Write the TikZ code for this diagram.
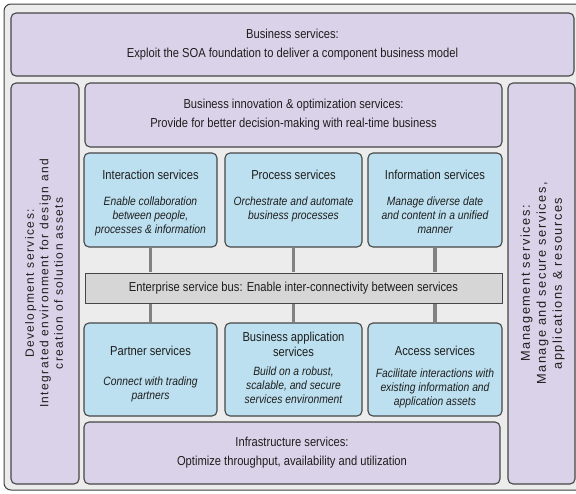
\documentclass[tikz,border=0pt]{standalone}
\usepackage{fontspec}
\setmainfont{Liberation Sans}
\newfontfamily\narf{Liberation Sans}[FakeStretch=0.86]
\newfontfamily\widef{Liberation Sans}[LetterSpace=12]
\definecolor{lavc}{RGB}{217,210,232}
\definecolor{bluc}{RGB}{188,224,239}
\definecolor{esbc}{RGB}{214,214,214}
\definecolor{bordc}{RGB}{70,70,70}
\definecolor{bgc}{RGB}{236,236,236}
\definecolor{txtc}{RGB}{30,30,30}
\definecolor{connc}{RGB}{130,130,130}
\begin{document}
\begin{tikzpicture}[x=1pt,y=-1pt,
  box/.style={draw=bordc, line width=1.1pt, rounded corners=5pt, inner sep=0pt},
  lav/.style={box, fill=lavc},
  blu/.style={box, fill=bluc},
  esbbox/.style={draw=bordc, line width=1pt, fill=esbc, inner sep=0pt},
  tfont/.style={font=\narf\fontsize{13}{19}\selectfont, text=txtc, align=center},
  ttl/.style={font=\narf\fontsize{13}{15}\selectfont, text=txtc, inner sep=0pt, anchor=base, align=center},
  desc/.style={font=\narf\itshape\fontsize{12}{14}\selectfont, text=txtc, inner sep=0pt, anchor=north, align=center},
  side/.style={font=\widef\fontsize{12}{14.5}\selectfont, text=txtc, align=center, rotate=90, inner sep=0pt},
  sider/.style={font=\widef\fontsize{12.8}{16}\selectfont, text=txtc, align=center, rotate=90, inner sep=0pt},
  conn/.style={draw=connc, line width=3.5pt, shorten <=0.6pt, shorten >=0.6pt}
]
\useasboundingbox (0,0) rectangle (576,493);
\clip (0,0) rectangle (576,493);
\draw[draw=black!75, line width=1pt, fill=bgc, rounded corners=7pt] (4,4) rectangle (600,490);

% large lavender boxes
\node[lav, tfont, minimum width=563pt, minimum height=63pt] (bus) at (292.5,44.5)
  {Business services:\\Exploit the SOA foundation to deliver a component business model};
\node[lav, minimum width=68pt, minimum height=401pt] (dev) at (45,283.5) {};
\node[lav, minimum width=67pt, minimum height=401pt] (mgmt) at (541.5,283.5) {};
\node[lav, tfont, minimum width=417pt, minimum height=64pt] (innov) at (293.5,115)
  {Business innovation \& optimization services:\\Provide for better decision-making with real-time business};
\node[lav, tfont, minimum width=416pt, minimum height=62pt] (infra) at (292,453)
  {Infrastructure services:\\Optimize throughput, availability and utilization};

% side texts
\node[side] (devt) at (44,283.5) {Development services:\\Integrated environment for design and\\creation of solution assets};
\node[sider] (mgmtt) at (542.5,283.5) {Management services:\\Manage and secure services,\\applications \& resources};

% top row
\node[blu, minimum width=133pt, minimum height=94pt] (inter) at (150.5,200) {};
\node[blu, minimum width=137pt, minimum height=94pt] (proc) at (293.5,200) {};
\node[blu, minimum width=134pt, minimum height=94pt] (info) at (435,200) {};

% ESB
\node[esbbox, tfont, minimum width=417pt, minimum height=30pt] (esb) at (293.5,288)
  {Enterprise service bus: Enable inter-connectivity between services};

% bottom row
\node[blu, minimum width=133pt, minimum height=93pt] (part) at (150.5,369.5) {};
\node[blu, minimum width=137pt, minimum height=93pt] (bapp) at (293.5,369.5) {};
\node[blu, minimum width=134pt, minimum height=93pt] (acc) at (435,369.5) {};

% connectors
\draw[conn] (inter.south) -- (inter.south |- esb.north);
\draw[conn] (proc.south) -- (proc.south |- esb.north);
\draw[conn] (info.south) -- (info.south |- esb.north);
\draw[conn] (part.north) -- (part.north |- esb.south);
\draw[conn] (bapp.north) -- (bapp.north |- esb.south);
\draw[conn] (acc.north) -- (acc.north |- esb.south);

% top row texts
\node[ttl] (intert) at (150.5,179) {Interaction services};
\node[desc] (interd) at (150.5,196.2) {Enable collaboration\\between people,\\processes \& information};
\node[ttl] (proct) at (293.5,179) {Process services};
\node[desc] (procd) at (293.5,196.2) {Orchestrate and automate\\business processes};
\node[ttl] (infot) at (435,179) {Information services};
\node[desc] (infod) at (435,196.2) {Manage diverse date\\and content in a unified\\manner};

% bottom row texts
\node[ttl] (partt) at (150.5,355) {Partner services};
\node[desc] (partd) at (150.5,376.2) {Connect with trading\\partners};
\node[ttl] (bappt) at (293.5,356.5) {Business application\\services};
\node[desc] (bappd) at (293.5,366.2) {Build on a robust,\\scalable, and secure\\services environment};
\node[ttl] (acct) at (435,355) {Access services};
\node[desc] (accd) at (435,368.2) {Facilitate interactions with\\existing information and\\application assets};
\end{tikzpicture}
\end{document}
